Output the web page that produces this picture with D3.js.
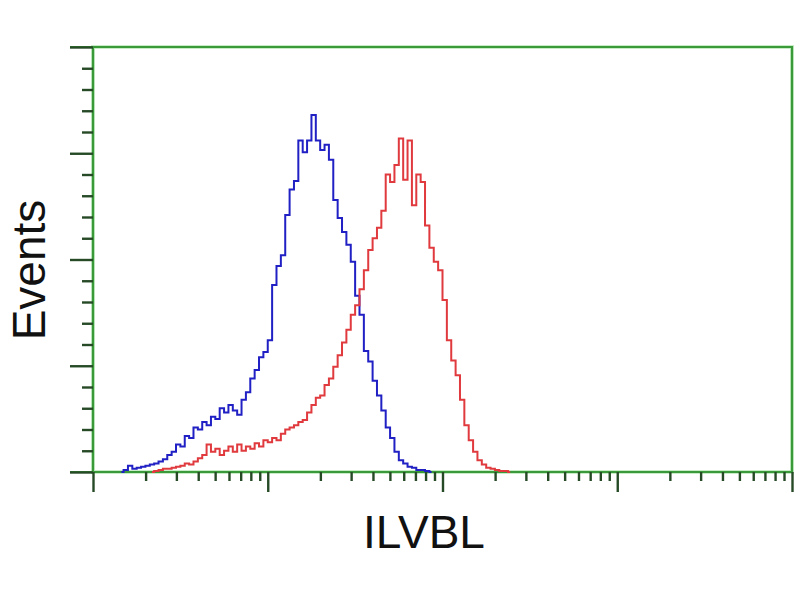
<!DOCTYPE html>
<html>
<head>
<meta charset="utf-8">
<script src="https://cdn.jsdelivr.net/npm/d3@7/dist/d3.min.js"></script>
<style>
  body { margin: 0; background: #fff; }
  svg { display: block; }
  text { font-family: "Liberation Sans", Arial, sans-serif; fill: #111; }
</style>
</head>
<body>
<div id="chart"></div>
<script>
// histogram: 160 log-spaced channels over 4 decades
var nBins = 160;
var xDecades = [1, 10, 100, 1000, 10000];
var yMajor = [0, 50, 100, 150, 200];

// isotype control (blue), first channel = blueStart
var blueStart = 7;
var blueCounts = [1, 3, 1.5, 2, 2.5, 3, 3.5, 4, 5, 6, 8, 9.5, 13, 12, 17, 16, 21, 20, 23.5, 22,
  26, 25, 30, 28, 31.5, 29, 27, 34, 37.5, 44, 48, 54, 56.5, 62, 88, 97, 102, 121, 133, 137,
  156, 150.5, 156, 168, 156, 151.5, 154, 147, 128, 119.5, 113, 107, 99, 83, 74, 57, 52, 43, 36, 29,
  21, 16, 9.5, 5.5, 4, 2.5, 2, 1, 1, 0.5];

// ILVBL stained (red)
var redStart = 14;
var redCounts = [0.5, 1, 1.5, 1.5, 2, 2.5, 3, 4, 3.5, 5, 6.5, 8, 13, 9.5, 11, 8, 10, 12, 9.5, 13,
  10, 12, 11, 13.5, 12, 15, 14, 16, 15, 18, 20, 21, 22, 23.5, 24.5, 28, 31.5, 35, 36, 41,
  44, 49.5, 55, 61, 67, 74, 78.5, 86, 95, 104.5, 110, 115, 123, 140, 136.5, 144.5, 157, 137.5, 156, 125.5,
  140, 136.5, 116, 105.5, 99, 95, 81, 62, 52.5, 45.5, 34, 22, 15, 9.5, 5.5, 3.5, 2, 1.5, 1, 0.5, 0.5];

var width = 800, height = 600;
var plotL = 93, plotR = 792, plotT = 47, plotB = 472;
var frameColor = '#3a9a3a';
var tickColor = '#264a26';

var svg = d3.select('#chart').append('svg')
  .attr('width', width)
  .attr('height', height);

var x = d3.scaleLog().domain([1, 10000]).range([plotL, plotR]);
var y = d3.scaleLinear().domain([0, 200]).range([plotB, plotT]);

// channel index -> value at channel centre
function chanValue(i) { return Math.pow(10, 4 * (i + 0.5) / nBins); }

function toPoints(start, counts) {
  var pts = [[chanValue(start - 1), 0]];
  counts.forEach(function(c, k) { pts.push([chanValue(start + k), c]); });
  pts.push([chanValue(start + counts.length), 0]);
  return pts;
}

var line = d3.line()
  .x(function(d) { return x(d[0]); })
  .y(function(d) { return y(d[1]); })
  .curve(d3.curveStep);

// frame
svg.append('rect')
  .attr('x', plotL).attr('y', plotT)
  .attr('width', plotR - plotL).attr('height', plotB - plotT)
  .attr('fill', 'none')
  .attr('stroke', '#c8ebc8').attr('stroke-width', 4);
svg.append('path')
  .attr('d', 'M' + (plotL - 23) + ',' + plotT + 'H' + plotR + 'V' + plotB + 'H' + (plotL - 23) + 'M' + plotL + ',' + plotT + 'V' + plotB)
  .attr('fill', 'none')
  .attr('stroke', frameColor).attr('stroke-width', 2.2);

// y ticks
var yMinor = d3.range(0, 201, 10).filter(function(v) { return v % 50 !== 0; });
var yAxisMinor = svg.append('g').attr('transform', 'translate(' + plotL + ',0)')
  .call(d3.axisLeft(y).tickValues(yMinor).tickSize(11).tickFormat(''));
var yAxisMajor = svg.append('g').attr('transform', 'translate(' + plotL + ',0)')
  .call(d3.axisLeft(y).tickValues(yMajor).tickSize(23).tickFormat(''));

// x ticks
var xMinor = [];
xDecades.slice(0, 4).forEach(function(d) {
  for (var m = 2; m <= 9; m++) xMinor.push(d * m);
});
var xAxisMinor = svg.append('g').attr('transform', 'translate(0,' + plotB + ')')
  .call(d3.axisBottom(x).tickValues(xMinor).tickSize(9).tickFormat(''));
var xAxisMajor = svg.append('g').attr('transform', 'translate(0,' + plotB + ')')
  .call(d3.axisBottom(x).tickValues(xDecades).tickSize(20).tickFormat(''));

[yAxisMinor, yAxisMajor, xAxisMinor, xAxisMajor].forEach(function(g) {
  g.select('.domain').remove();
  g.selectAll('line').attr('stroke', tickColor).attr('stroke-width', 2.4);
});

// histograms
svg.append('path')
  .datum(toPoints(blueStart, blueCounts))
  .attr('d', line)
  .attr('fill', 'none')
  .attr('stroke', '#2020c4').attr('stroke-width', 2);

svg.append('path')
  .datum(toPoints(redStart, redCounts))
  .attr('d', line)
  .attr('fill', 'none')
  .attr('stroke', '#e03a3e').attr('stroke-width', 2);

// labels
svg.append('text')
  .attr('transform', 'translate(45,270) rotate(-90)')
  .attr('text-anchor', 'middle')
  .style('font-size', '46px')
  .text('Events');

svg.append('text')
  .attr('x', 424).attr('y', 548)
  .attr('text-anchor', 'middle')
  .style('font-size', '46px')
  .text('ILVBL');
</script>
</body>
</html>
